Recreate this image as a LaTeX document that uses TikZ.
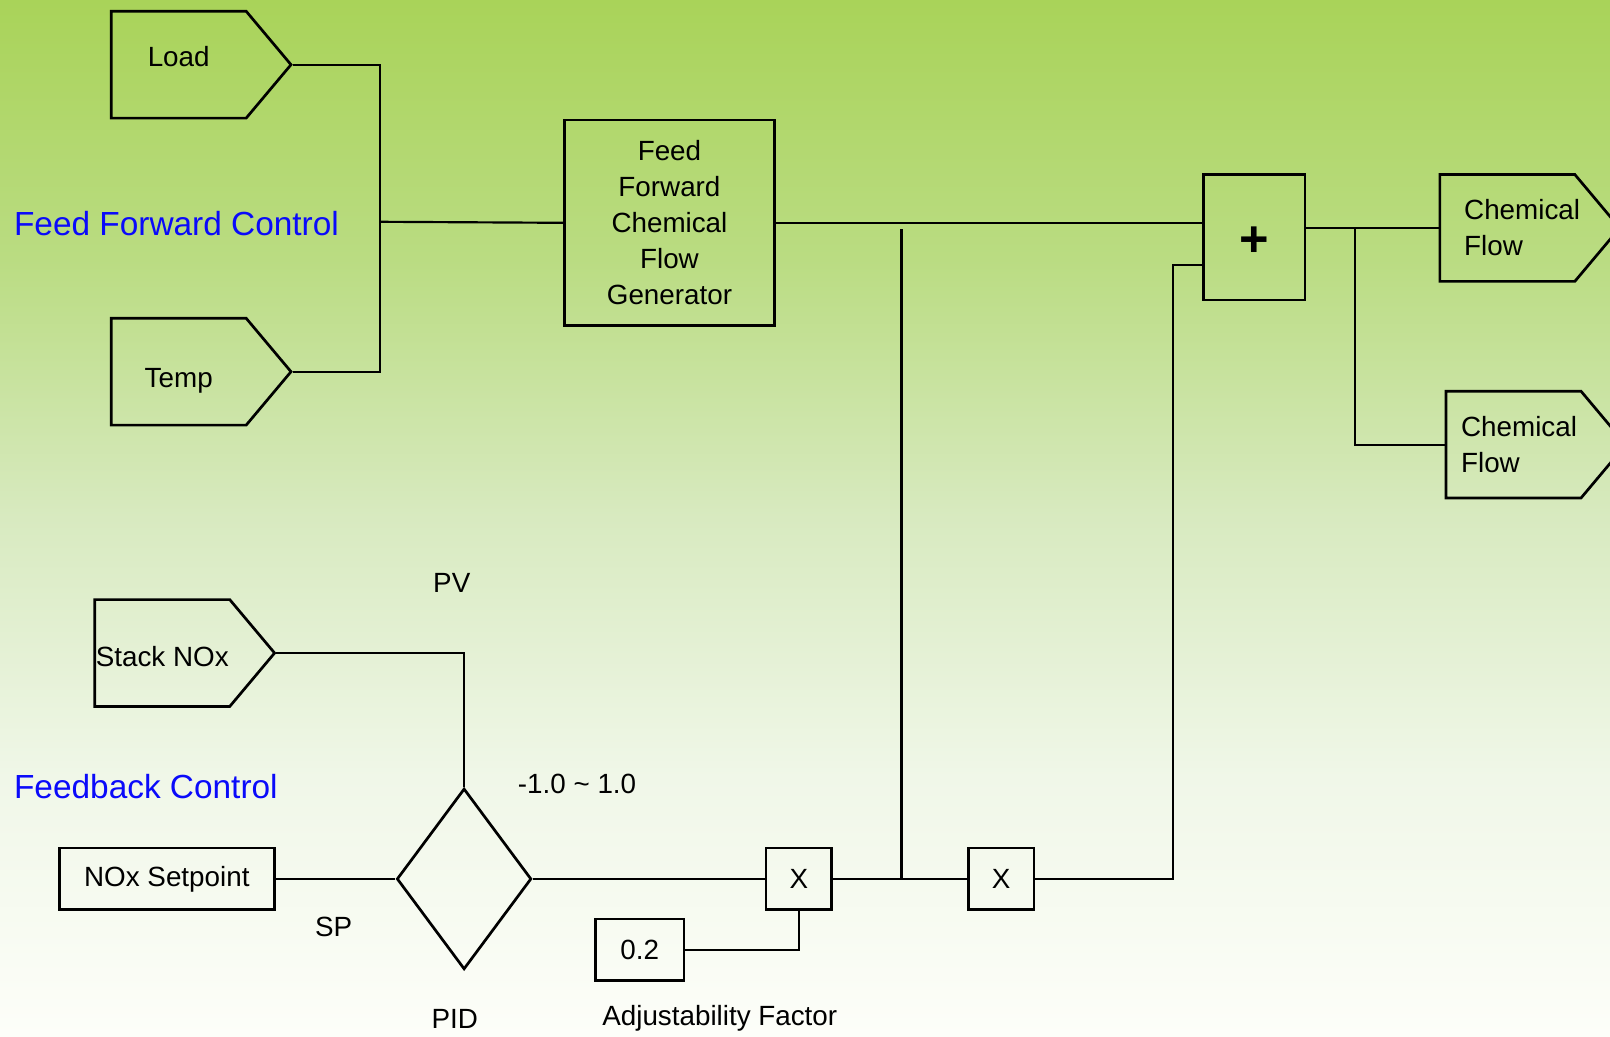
\documentclass[tikz,border=0pt]{standalone}
\usepackage{fontspec}
\setmainfont{Liberation Sans}
\usetikzlibrary{shapes.symbols,shapes.geometric}

\definecolor{bgtop}{RGB}{169,211,89}
\definecolor{bghigh}{RGB}{186,220,130}
\definecolor{bgmid}{RGB}{216,234,192}
\definecolor{bglow}{RGB}{240,247,232}
\definecolor{bgbot}{RGB}{253,254,249}
\definecolor{titleblue}{RGB}{10,10,250}
\pgfdeclareverticalshading{panelfade}{100bp}{color(0bp)=(bgbot); color(25bp)=(bgbot); color(37.5bp)=(bglow); color(50bp)=(bgmid); color(62.5bp)=(bghigh); color(75bp)=(bgtop); color(100bp)=(bgtop)}

\begin{document}
\begin{tikzpicture}[x=0.01cm, y=-0.01cm,
		every node/.style={font=\fontsize{7.7}{10}\selectfont},
		box/.style={draw, rectangle, line width=0.75pt, inner sep=0pt},
		tag/.style={draw, signal, signal to=east, signal pointer angle=100, line width=0.75pt,
			minimum width=1.75cm, minimum height=1.04cm, inner sep=0pt, anchor=west},
		wire/.style={line width=0.6pt},
		title/.style={text=titleblue, font=\fontsize{9.25}{11}\selectfont, anchor=west, inner sep=0pt}]
	
	% Nền chuyển màu
	\shade[shading=panelfade] (0,0) rectangle (1568,1009);
	\useasboundingbox (0,0) rectangle (1568,1009);
	
	% Tiêu đề hai phần
	\node[title] (fftitle) at (13,218) {Feed Forward Control};
	\node[title] (fbtitle) at (13,766) {Feedback Control};
	
	% Phần feed forward
	\node[tag, text depth=0.16cm] (load) at (107,63) {Load};
	\node[tag, text height=0.36cm] (temp) at (107,362) {Temp};
	\node[box, minimum width=2.04cm, minimum height=2.0cm, align=center] (ffgen) at (652,217)
		{Feed\\Forward\\Chemical\\Flow\\Generator};
	\node[box, minimum width=0.99cm, minimum height=1.22cm, font=\fontsize{14}{14}\bfseries] (sum) at (1221.5,231) {\raisebox{-0.19cm}[0pt][0pt]{+}};
	\node[tag, text width=0.84cm, align=left] (flowa) at (1401,222) {Chemical\\Flow};
	\node[tag, text width=1.02cm, align=left] (flowb) at (1407,433) {Chemical\\Flow};
	
	\coordinate (ffjoin) at (370,216);
	\coordinate (split) at (1320,222);
	\draw[wire] (load.east) -| (ffjoin) |- (temp.east);
	\draw[wire] (ffjoin) -- (ffgen.west);
	\draw[wire] (ffgen.east) -- (ffgen.east -| sum.west);
	\draw[wire] (sum.east |- flowa.west) -- (flowa.west);
	\draw[wire] (split) |- (flowb.west);
	
	% Phần feedback
	\node[tag, text height=0.27cm] (stack) at (91,636) {Stack NOx};
	\node[box, minimum width=2.09cm, minimum height=0.6cm] (setpt) at (162.5,856) {NOx Setpoint};
	\node[draw, diamond, line width=0.75pt, minimum width=1.31cm, minimum height=1.76cm, inner sep=0pt] (pid) at (452,856) {};
	\node[box, minimum width=0.64cm, minimum height=0.6cm] (multa) at (778,856) {X};
	\node[box, minimum width=0.64cm, minimum height=0.6cm] (multb) at (975,856) {X};
	\node[box, minimum width=0.86cm, minimum height=0.6cm] (gain) at (623,925) {0.2};
	
	\node (pvlbl) at (440,568) {PV};
	\node (splbl) at (325,903) {SP};
	\node (pidlbl) at (443,992) {PID};
	\node (rangelbl) at (562,763) {-1.0 \textasciitilde\ 1.0};
	\node (gainlbl) at (701,992) {Adjustability Factor};
	
	\coordinate (tap) at (878,856);
	\coordinate (taptop) at (878,223);
	\coordinate (sumin) at (1142,258);
	\draw[wire] (stack.east) -| (pid.north);
	\draw[wire] (setpt.east) -- (pid.west);
	\draw[wire] (pid.east) -- (multa.west);
	\draw[wire] (gain.east) -| (multa.south);
	\draw[wire] (multa.east) -- (multb.west);
	\draw[wire] (tap) -- (taptop);
	\draw[wire] (multb.east) -| (sumin) -- (sumin -| sum.west);
	
\end{tikzpicture}
\end{document}
